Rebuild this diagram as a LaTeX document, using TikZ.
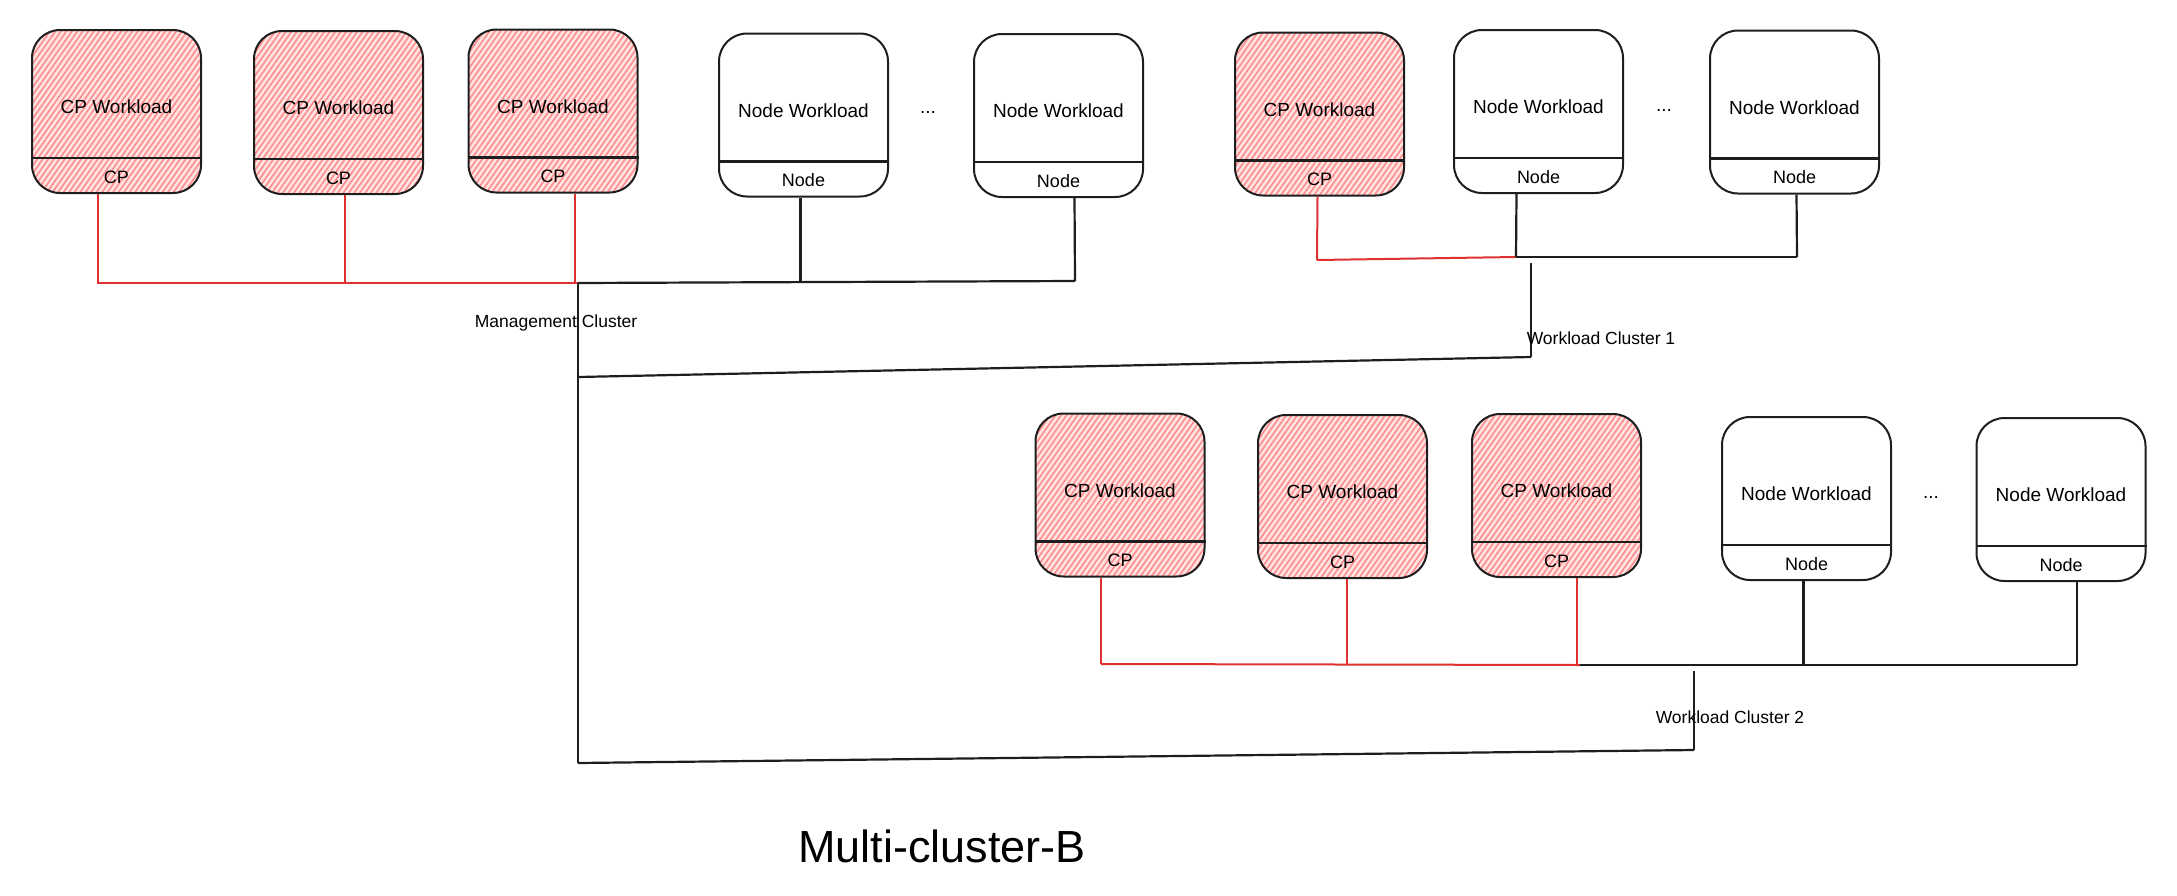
\documentclass[tikz,border=0pt]{standalone}
\usepackage{fontspec}
\setmainfont{Liberation Sans}
\usetikzlibrary{patterns.meta}
\definecolor{inkc}{RGB}{30,30,30}
\definecolor{redline}{RGB}{224,49,49}
\definecolor{hatchc}{RGB}{255,140,140}
\definecolor{pinkbg}{RGB}{255,226,226}
\tikzset{
  boxbase/.style={draw=inkc, line width=2pt, rounded corners=28pt, minimum width=169pt, minimum height=163pt, inner sep=0pt},
  cpbox/.style={boxbase, preaction={fill=pinkbg}, preaction={pattern={Lines[angle=55,distance=4.5pt,line width=1.6pt]}, pattern color=hatchc}},
  nodebox/.style={boxbase, fill=white},
  divider/.style={draw=inkc, line width=2.4pt},
  bigtxt/.style={font=\fontsize{19}{22}\selectfont, text=black},
  smalltxt/.style={font=\fontsize{18}{21}\selectfont, text=black},
  clabel/.style={font=\fontsize{17.5}{20}\selectfont, text=black},
  redwire/.style={draw=redline, line width=2pt},
  blackwire/.style={draw=inkc, line width=2.2pt},
  titletxt/.style={font=\fontsize{45}{52}\selectfont, text=black}
}
\newcommand{\wbox}[6]{%
  \node[#6] (#1) at (#2) {};
  \draw[divider] ([yshift=36pt]#1.south west) -- ([yshift=36pt]#1.south east);
  \node[bigtxt] (#1t) at ([yshift=-78pt]#1.north) {#3};
  \node[smalltxt] (#1b) at ([yshift=17pt]#1.south) {#4};
  \coordinate (#1c) at ([xshift=#5pt]#1.south);
}
\begin{document}
\begin{tikzpicture}[x=1pt,y=-1pt]
\useasboundingbox (0,0) rectangle (2177,895);
% ---------- Management cluster ----------
\wbox{m1}{116.5,111.5}{CP Workload}{CP}{-19}{cpbox}
\wbox{m2}{338.5,112.5}{CP Workload}{CP}{6}{cpbox}
\wbox{m3}{553,111}{CP Workload}{CP}{22}{cpbox}
\wbox{m4}{803.5,115}{Node Workload}{Node}{-3}{nodebox}
\node[bigtxt] (md) at (928,112) {...};
\wbox{m5}{1058.5,115.5}{Node Workload}{Node}{16}{nodebox}
\coordinate (mbusL) at (97,283);
\coordinate (mjoin) at (578,283);
\coordinate (mbusR) at (1075,281);
\draw[redwire] (m1c) -- (m1c |- mbusL);
\draw[redwire] (m2c) -- (m2c |- mbusL);
\draw[redwire] (m3c) -- (m3c |- mbusL);
\draw[redwire] (mbusL) -- (mjoin);
\draw[blackwire] (m4c) -- (m4c |- mbusR);
\draw[blackwire] (m5c) -- (mbusR);
\draw[blackwire] (mjoin) -- (mbusR);
\coordinate (mlow) at (578,763);
\draw[blackwire] (mjoin) -- (mlow);
\node[clabel] (mlab) at (556,323) {Management Cluster};
% ---------- Workload cluster 1 ----------
\wbox{w1}{1319.5,114}{CP Workload}{CP}{-2}{cpbox}
\wbox{w2}{1538.5,111.5}{Node Workload}{Node}{-22}{nodebox}
\node[bigtxt] (wd) at (1664,110) {...};
\wbox{w3}{1794.5,112}{Node Workload}{Node}{2}{nodebox}
\coordinate (wbusL) at (1317,260);
\coordinate (wjoin) at (1516,257);
\coordinate (wbusR) at (1797,257);
\draw[redwire] (w1c) -- (wbusL);
\draw[redwire] (wbusL) -- (wjoin);
\draw[blackwire] (w2c) -- (wjoin);
\draw[blackwire] (w3c) -- (wbusR);
\draw[blackwire] (wjoin) -- (wbusR);
\coordinate (w1top) at (1531,263);
\coordinate (w1bot) at (1531,357);
\draw[blackwire] (w1top) -- (w1bot);
\node[clabel] (w1lab) at (1601,338) {Workload Cluster 1};
\coordinate (mmid) at (578,377);
\draw[blackwire] (mmid) -- (w1bot);
% ---------- Workload cluster 2 ----------
\wbox{c1}{1120,495}{CP Workload}{CP}{-19}{cpbox}
\wbox{c2}{1342.5,496.5}{CP Workload}{CP}{4}{cpbox}
\wbox{c3}{1556.5,495.5}{CP Workload}{CP}{20}{cpbox}
\wbox{c4}{1806.5,498.5}{Node Workload}{Node}{-3}{nodebox}
\node[bigtxt] (cd) at (1931,497) {...};
\wbox{c5}{2061,499.5}{Node Workload}{Node}{16}{nodebox}
\coordinate (cbusL) at (1101,664);
\coordinate (cjoin) at (1580,665);
\coordinate (cbusR) at (2077,665);
\draw[redwire] (c1c) -- (cbusL);
\draw[redwire] (c2c) -- (c2c |- cbusL);
\draw[redwire] (c3c) -- (c3c |- cjoin);
\draw[redwire] (cbusL) -- (cjoin);
\draw[blackwire] (c4c) -- (c4c |- cbusR);
\draw[blackwire] (c5c) -- (cbusR);
\draw[blackwire] (cjoin) -- (cbusR);
\coordinate (c2top) at (1694,671);
\coordinate (c2bot) at (1694,750);
\draw[blackwire] (c2top) -- (c2bot);
\node[clabel] (c2lab) at (1730,717) {Workload Cluster 2};
\draw[blackwire] (mlow) -- (c2bot);
% ---------- title ----------
\node[titletxt] (title) at (942,846) {Multi-cluster-B};
\end{tikzpicture}
\end{document}
